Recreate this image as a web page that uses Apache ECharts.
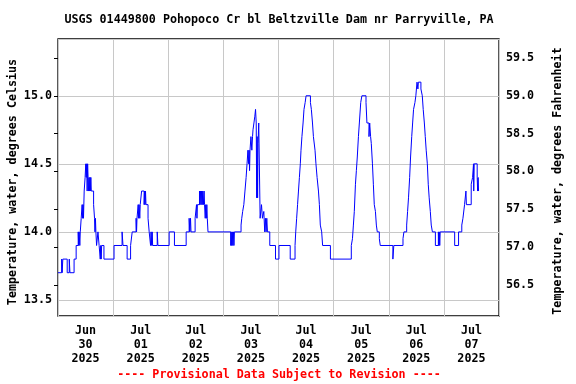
<!DOCTYPE html>
<html><head><meta charset="utf-8">
<script src="https://cdn.jsdelivr.net/npm/echarts@6/dist/echarts.min.js"></script>
<style>html,body{margin:0;padding:0;background:#fff}#c{width:576px;height:384px}</style>
</head><body><div id="c"></div>
<script>
// Hours since Jun 30 2025 00:00 at which the reading changes, and the reading (deg C)
const hours = [
 0,1.6,1.8,2.1,4.0,4.9,5.2,7.0,7.9,8.8,9.0,9.2,9.5,9.7,10.1,10.5,10.7,10.9,11.1,11.4,11.8,12.1,12.3,12.5,12.7,12.9,13.1,13.3,13.5,13.7,13.9,14.1,14.3,14.5,15.5,15.9,16.1,16.3,16.5,16.8,17.4,17.9,18.4,18.6,18.8,19.0,20.0,
 24.4,27.9,28.3,30.1,31.6,32.3,34.0,34.2,34.4,34.9,35.1,35.3,35.6,35.8,36.4,37.5,37.7,37.9,38.1,38.3,39.2,39.7,40.3,40.5,40.8,41.0,41.2,43.2,43.5,48.4,50.7,
 55.8,57.1,57.4,57.7,57.9,59.7,60.3,60.5,60.7,61.6,61.8,62.0,62.3,62.5,62.8,63.0,63.3,63.6,63.8,64.1,64.3,64.6,64.8,65.0,65.3,
 75.2,75.4,75.6,75.9,76.1,76.4,76.6,76.8,
 79.7,80.0,80.4,80.9,81.4,81.9,82.3,82.7,83.0,83.2,83.4,83.6,84.0,84.4,84.7,84.9,85.3,85.7,86.0,86.3,86.5,86.7,86.9,87.1,87.4,88.0,88.6,89.0,89.6,90.0,90.3,90.6,90.9,91.2,92.2,94.7,96.2,101.1,103.2,
 103.5,103.9,104.3,104.7,105.1,105.5,105.8,106.2,106.7,107.1,107.6,108.0,109.9,110.3,110.8,111.2,111.9,112.3,112.8,113.4,113.8,114.2,114.8,115.2,118.6,
 127.7,128.2,128.6,129.0,129.5,129.9,130.3,130.8,131.2,131.8,132.3,134.1,134.5,135.4,135.7,136.1,136.4,136.9,137.3,137.7,138.2,138.6,139.0,139.9,140.3,145.8,146.2,150.2,150.6,
 151.8,152.2,152.6,153.1,153.5,154.0,154.4,154.8,155.4,155.8,156.3,156.7,156.9,158.0,158.6,159.0,159.5,159.9,160.3,160.8,161.2,161.6,162.1,162.5,163.0,164.3,165.6,165.8,166.0,166.2,166.4,
 172.7,174.4,175.8,176.3,177.0,177.6,177.8,179.9,180.5,180.9,181.0,181.2,182.5,182.7,182.9,183.1
];
const tempC = [
 13.7,13.8,13.7,13.8,13.7,13.8,13.7,13.8,13.9,14.0,13.9,14.0,13.9,14.0,14.1,14.2,14.1,14.2,14.1,14.3,14.4,14.5,14.4,14.5,14.3,14.5,14.4,14.3,14.4,14.3,14.4,14.3,14.4,14.3,14.2,14.1,14.0,14.1,14.0,13.9,14.0,13.9,13.8,13.9,13.8,13.9,13.8,
 13.9,14.0,13.9,13.8,13.9,14.0,14.1,14.0,14.1,14.2,14.1,14.2,14.1,14.2,14.3,14.2,14.3,14.2,14.3,14.2,14.1,14.0,13.9,14.0,13.9,14.0,13.9,14.0,13.9,14.0,13.9,
 14.0,14.1,14.0,14.1,14.0,14.1,14.2,14.1,14.2,14.3,14.2,14.3,14.2,14.3,14.2,14.3,14.2,14.3,14.2,14.1,14.2,14.1,14.2,14.1,14.0,
 13.9,14.0,13.9,14.0,13.9,14.0,13.9,14.0,
 14.05,14.1,14.15,14.2,14.3,14.4,14.5,14.6,14.5,14.6,14.45,14.6,14.7,14.6,14.7,14.75,14.8,14.85,14.9,14.8,14.25,14.7,14.25,14.65,14.8,14.1,14.2,14.1,14.15,14.0,14.1,14.0,14.1,14.0,13.9,13.8,13.9,13.8,13.9,
 14.0,14.1,14.2,14.3,14.4,14.5,14.6,14.7,14.8,14.9,14.95,15.0,14.95,14.9,14.8,14.7,14.6,14.5,14.4,14.3,14.2,14.05,14.0,13.9,13.8,
 13.9,13.95,14.05,14.15,14.35,14.45,14.55,14.7,14.8,14.95,15.0,14.95,14.8,14.7,14.8,14.7,14.65,14.5,14.35,14.2,14.15,14.05,14.0,13.95,13.9,13.8,13.9,13.95,14.0,
 14.05,14.15,14.25,14.4,14.55,14.7,14.8,14.9,14.95,15.0,15.1,15.05,15.1,15.05,15.0,14.9,14.8,14.7,14.6,14.5,14.35,14.25,14.15,14.05,14.0,13.9,14.0,13.9,14.0,13.9,14.0,
 13.9,14.0,14.05,14.1,14.2,14.3,14.2,14.35,14.4,14.5,14.3,14.5,14.4,14.3,14.4,14.3
];
const dayLabels = ['Jun\n30\n2025','Jul\n01\n2025','Jul\n02\n2025','Jul\n03\n2025','Jul\n04\n2025','Jul\n05\n2025','Jul\n06\n2025','Jul\n07\n2025'];
const titleText = 'USGS 01449800 Pohopoco Cr bl Beltzville Dam nr Parryville, PA';
const footerText = '---- Provisional Data Subject to Revision ----';
const leftName = 'Temperature, water, degrees Celsius';
const rightName = 'Temperature, water, degrees Fahrenheit';

const FONT = '"DejaVu Sans Mono", "Liberation Mono", monospace';
const FS = 11.7;
const cMin = 13.382, cMax = 15.417;
const txt = {fontFamily: FONT, fontWeight: 'bold', fontSize: FS, color: '#000'};

const chart = echarts.init(document.getElementById('c'), null, {renderer: 'canvas'});
chart.setOption({
  animation: false,
  backgroundColor: '#fff',
  grid: {left: 58, right: 77, top: 39, bottom: 68, show: true, borderColor: '#000', borderWidth: 1.3, backgroundColor: 'transparent'},
  xAxis: [
    {type: 'value', min: 0, max: 192, interval: 24, axisLine: {show: false}, axisTick: {show: false},
     axisLabel: {show: false}, splitLine: {show: true, lineStyle: {color: '#c8c8c8', width: 1}}},
    {type: 'value', min: 0, max: 192, interval: 12, position: 'bottom', axisLine: {show: false}, axisTick: {show: false},
     splitLine: {show: false},
     axisLabel: Object.assign({}, txt, {margin: 8, lineHeight: 14, showMinLabel: true, showMaxLabel: true,
       formatter: v => (v % 24 === 12) ? dayLabels[(v - 12) / 24] : ''})}
  ],
  yAxis: [
    {type: 'value', min: cMin, max: cMax, splitNumber: 4, position: 'left',
     axisLine: {show: false}, axisTick: {show: false},
     axisLabel: Object.assign({}, txt, {margin: 6, showMinLabel: false, showMaxLabel: false, formatter: v => v.toFixed(1)}),
     splitLine: {show: true, lineStyle: {color: '#c8c8c8', width: 1}}},
    {type: 'value', min: cMin * 1.8 + 32, max: cMax * 1.8 + 32, splitNumber: 7, position: 'right',
     axisLine: {show: false}, axisTick: {show: true, inside: true, length: 4, lineStyle: {color: '#000', width: 1}},
     axisLabel: Object.assign({}, txt, {margin: 7, showMinLabel: false, showMaxLabel: false, formatter: v => v.toFixed(1)}),
     splitLine: {show: false}}
  ],
  graphic: [
    {type: 'text', x: 279, y: 20, style: {text: titleText, textAlign: 'center', textVerticalAlign: 'middle', font: 'bold ' + FS + 'px ' + FONT, fill: '#000'}},
    {type: 'text', x: 279, y: 375, style: {text: footerText, textAlign: 'center', textVerticalAlign: 'middle', font: 'bold ' + FS + 'px ' + FONT, fill: '#f00'}},
    {type: 'text', x: 13, y: 182, rotation: Math.PI / 2, style: {text: leftName, textAlign: 'center', textVerticalAlign: 'middle', font: 'bold ' + FS + 'px ' + FONT, fill: '#000'}},
    {type: 'text', x: 558, y: 181, rotation: Math.PI / 2, style: {text: rightName, textAlign: 'center', textVerticalAlign: 'middle', font: 'bold ' + FS + 'px ' + FONT, fill: '#000'}}
  ],
  series: [{
    type: 'line', xAxisIndex: 0, yAxisIndex: 0, step: 'end', showSymbol: false, symbol: 'none',
    lineStyle: {color: '#0000ff', width: 1}, itemStyle: {color: '#0000ff'},
    data: hours.map((h, i) => [h, tempC[i]])
  }]
});
</script></body></html>
